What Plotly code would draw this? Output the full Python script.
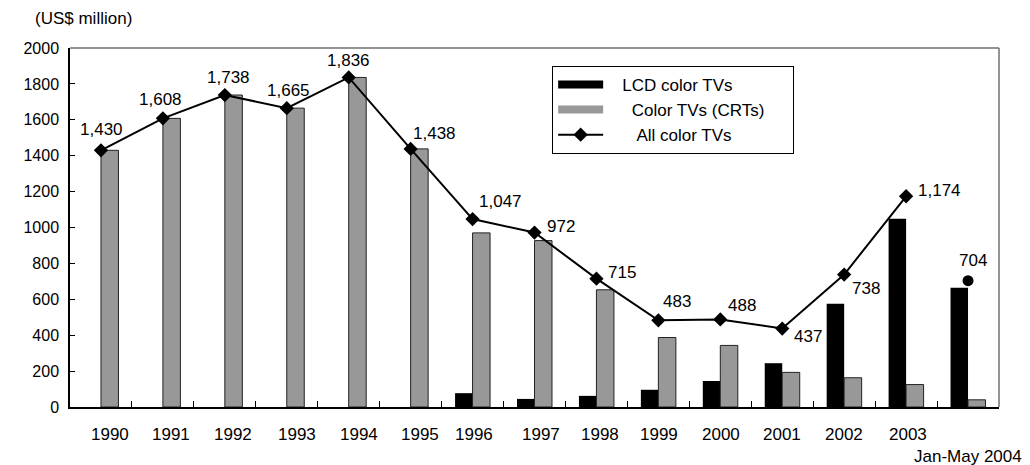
import plotly.graph_objects as go

categories = ["1990", "1991", "1992", "1993", "1994", "1995", "1996", "1997",
              "1998", "1999", "2000", "2001", "2002", "2003", "Jan-May 2004"]
tick_labels = ["1990", "1991", "1992", "1993", "1994", "1995", "1996", "1997",
               "1998", "1999", "2000", "2001", "2002", "2003", "Jan-May 2004"]
lcd_values = [0, 0, 0, 0, 0, 0, 77, 45, 62, 96, 145, 244, 575, 1049, 664]
crt_values = [1430, 1608, 1738, 1665, 1836, 1438, 970, 927, 653, 387, 343, 193, 163, 125, 40]
all_values = [1430, 1608, 1738, 1665, 1836, 1438, 1047, 972, 715, 483, 488, 437, 738, 1174]
partial_value = 704
y_ticks = [0, 200, 400, 600, 800, 1000, 1200, 1400, 1600, 1800, 2000]

# label offsets (style only, pixels)
label_shift = [(1, 21), (-2, 19), (4, 18), (2, 18), (0, 17), (24, 15), (28, 18),
               (26, 6), (26, 6), (19, 19), (22, 14), (26, -8), (22, -14), (33, 6)]
tick_shift = [9, 8, 8, 10, 10, 9, 1, 6, 4, 1, 1, 0, 0, 2, 0]

FONT = "Liberation Sans, Arial, sans-serif"
LCD_COLOR = "#000000"
CRT_COLOR = "#989898"
NB = "\u00a0"

fig = go.Figure()
fig.add_trace(go.Bar(
    x=categories, y=lcd_values, name="LCD color TVs", showlegend=False,
    marker=dict(color=LCD_COLOR, line=dict(width=0)),
))
fig.add_trace(go.Bar(
    x=categories, y=crt_values, name="Color TVs (CRTs)", showlegend=False,
    marker=dict(color=CRT_COLOR, line=dict(color="#222222", width=1)),
))
fig.add_trace(go.Scatter(
    x=categories[:len(all_values)], y=all_values, name="All color TVs",
    mode="lines+markers", showlegend=False,
    line=dict(color="#000000", width=2),
    marker=dict(symbol="diamond", size=11, color="#000000"),
))
fig.add_trace(go.Scatter(
    x=[categories[-1]], y=[partial_value], mode="markers", showlegend=False,
    marker=dict(symbol="circle", size=11, color="#000000"),
))
# legend entries (legend-only keys styled like the reference legend)
fig.add_trace(go.Scatter(
    x=[None], y=[None], mode="lines", name=NB * 3 + "LCD color TVs",
    line=dict(color=LCD_COLOR, width=8),
))
fig.add_trace(go.Scatter(
    x=[None], y=[None], mode="lines", name=NB * 5 + "Color TVs (CRTs)" + NB * 5,
    line=dict(color=CRT_COLOR, width=8),
))
fig.add_trace(go.Scatter(
    x=[None], y=[None], mode="lines+markers", name=NB * 6 + "All color TVs",
    line=dict(color="#000000", width=2),
    marker=dict(symbol="diamond", size=11, color="#000000"),
))

annotations = []
for i, v in enumerate(all_values):
    dx, dy = label_shift[i]
    annotations.append(dict(
        x=i, y=v, xref="x", yref="y", text=f"{v:,}",
        showarrow=False, xshift=dx, yshift=dy,
        font=dict(family=FONT, size=17, color="#000000"),
    ))
annotations.append(dict(
    x=len(categories) - 1, y=partial_value, xref="x", yref="y", text=f"{partial_value:,}",
    showarrow=False, xshift=5, yshift=20,
    font=dict(family=FONT, size=17, color="#000000"),
))
for i, lab in enumerate(tick_labels):
    last = i == len(tick_labels) - 1
    annotations.append(dict(
        x=i, y=0, xref="x", yref="paper", text=lab,
        showarrow=False, xshift=tick_shift[i], yshift=-49 if last else -27,
        yanchor="middle",
        font=dict(family=FONT, size=17, color="#000000"),
    ))
annotations.append(dict(
    x=-0.04, y=1.081, xref="paper", yref="paper", text="(US$ million)",
    showarrow=False, xanchor="left", yanchor="middle",
    font=dict(family=FONT, size=17, color="#000000"),
))

# page body has an 8px margin: figure is sized/margined so the plot lands where the reference's does
fig.update_layout(
    width=1022, height=457,
    margin=dict(l=62, r=31, t=40, b=58),
    paper_bgcolor="#ffffff", plot_bgcolor="#ffffff",
    barmode="group", bargap=0.435, bargroupgap=0,
    font=dict(family=FONT, size=16, color="#000000"),
    showlegend=True,
    legend=dict(
        x=0.519, y=0.95, xanchor="left", yanchor="top",
        bordercolor="#000000", borderwidth=1, bgcolor="#ffffff",
        font=dict(family=FONT, size=17, color="#000000"),
        itemwidth=45, traceorder="normal",
    ),
    annotations=annotations,
    shapes=[
        dict(type="line", xref="paper", yref="paper", x0=0, x1=1, y0=1, y1=1,
             line=dict(color="#707070", width=1.5)),
        dict(type="line", xref="paper", yref="paper", x0=1, x1=1, y0=0, y1=1,
             line=dict(color="#707070", width=1.5)),
    ],
)
fig.update_xaxes(
    type="category", categoryorder="array", categoryarray=categories,
    range=[-0.5, len(categories) - 0.5],
    showticklabels=False, tickson="boundaries", ticks="inside", ticklen=6,
    tickcolor="#000000", showline=True, linecolor="#000000", linewidth=1.5,
    showgrid=False, zeroline=False,
)
fig.update_yaxes(
    range=[0, 2000], tickvals=y_ticks, ticks="inside", ticklen=5,
    tickcolor="#000000", showline=True, linecolor="#000000", linewidth=1.5,
    showgrid=False, zeroline=False, ticklabelstandoff=6,
    tickfont=dict(family=FONT, size=16, color="#000000"),
)

fig.write_html("out.html")
